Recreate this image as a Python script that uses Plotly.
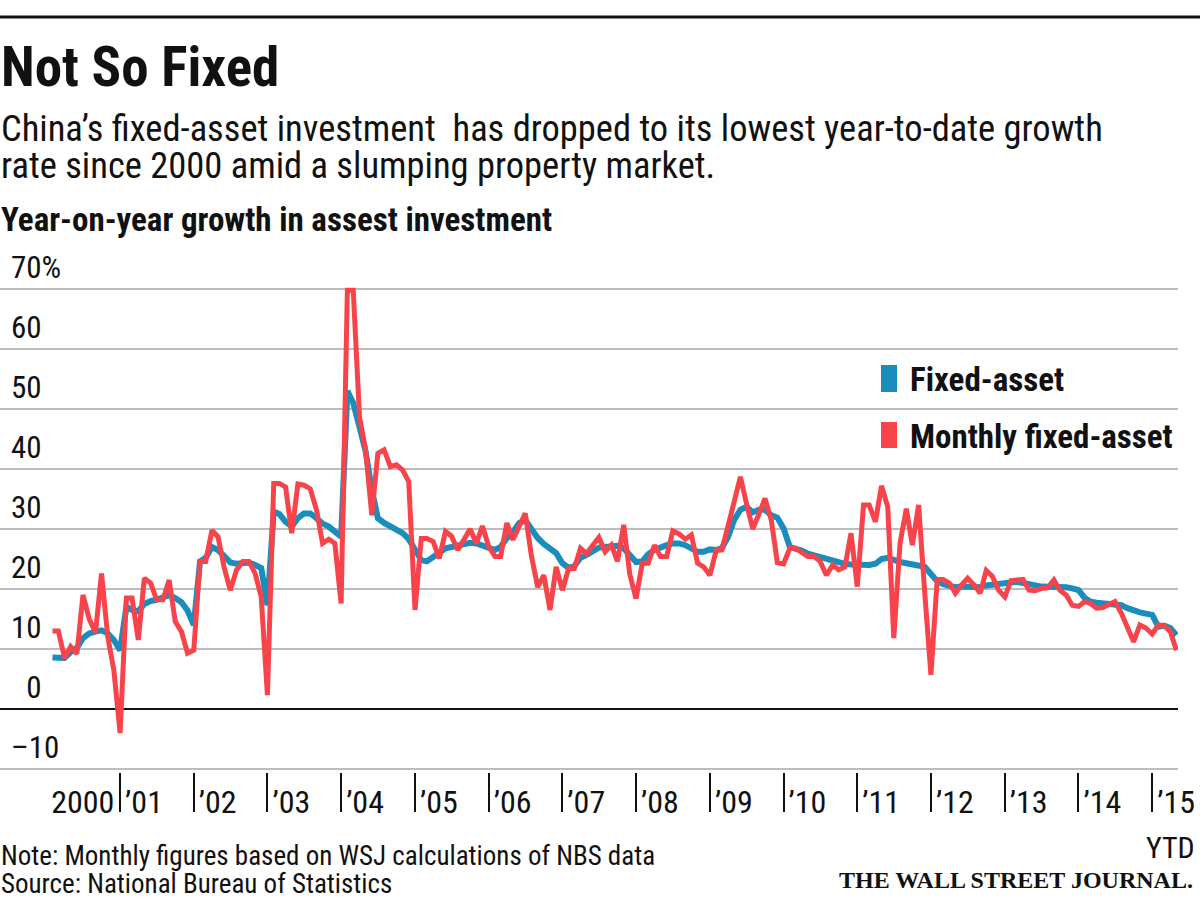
import pandas as pd
import plotly.graph_objects as go

# ---------------- data ----------------
start_month = "2000-02-01"

fixed_asset = [
    8.6, 8.6, 8.5, 9.5, 10.2, 11.8, 12.6, 12.9, 13.1, 12.6, 11.5, 9.8,
    17.0, 16.5, 16.3, 17.5, 18.0, 18.2, 18.5, 19.0, 18.5, 17.8, 16.4, 14.0,
    24.6, 25.2, 27.0, 26.5, 25.5, 24.4, 24.2, 24.4, 24.4, 24.0, 23.5, 17.3,
    32.9, 32.5, 31.2, 30.4, 31.8, 32.6, 32.6, 31.8, 30.9, 30.4, 29.7, 28.7,
    53.0, 51.0, 47.0, 43.0, 36.5, 31.8, 31.0, 30.5, 30.0, 29.3, 28.3, 26.5,
    24.8, 24.6, 25.4, 26.2, 26.8, 27.0, 27.3, 27.6, 27.7, 27.6, 27.3, 27.0,
    26.5, 27.0, 28.5, 29.5, 31.0, 31.5, 29.8, 28.5, 27.5, 26.8, 26.0, 24.3,
    23.5, 23.8, 25.2, 25.7, 26.4, 26.9, 27.0, 27.0, 27.2, 26.8, 25.7, 24.5,
    24.6, 25.8, 26.5, 27.0, 27.3, 27.6, 27.6, 27.3, 26.8, 26.2, 26.2, 26.6,
    26.5, 26.8, 28.7, 31.5, 33.2, 33.7, 32.8, 33.2, 33.2, 32.3, 31.9, 30.1,
    27.0, 26.8, 26.4, 25.9, 25.6, 25.2, 24.9, 24.6, 24.3, 24.2, 24.1, 24.0,
    24.0, 24.0, 24.2, 25.0, 25.2, 24.8, 24.5, 24.3, 24.1, 24.0, 23.7, 22.5,
    21.3, 20.8, 20.5, 20.3, 20.4, 20.4, 20.3, 20.3, 20.6, 20.7, 20.9, 21.0,
    21.1, 21.2, 21.0, 20.7, 20.6, 20.4, 20.4, 20.5, 20.4, 20.3, 20.1, 19.8,
    18.5, 17.9, 17.7, 17.6, 17.5, 17.4, 17.3, 16.8, 16.4, 16.1, 15.9, 15.7,
    13.7, 13.9, 13.5, 12.3,
]

monthly_fixed_asset = [
    13.0, 13.0, 8.5, 10.4, 9.2, 19.0, 15.0, 12.7, 22.6, 12.0, 6.5, -4.0,
    18.5, 18.5, 11.5, 21.8, 21.0, 18.2, 18.2, 21.5, 14.6, 12.9, 9.3, 9.8,
    24.6, 24.6, 29.8, 28.7, 23.5, 19.8, 23.2, 24.6, 24.6, 22.6, 18.7, 2.3,
    37.6, 37.6, 37.0, 29.3, 37.5, 37.3, 36.7, 33.2, 27.6, 28.3, 27.6, 17.6,
    69.8, 69.8, 48.7, 43.2, 32.3, 42.6, 43.2, 40.4, 40.7, 39.8, 37.9, 16.5,
    28.4, 28.4, 27.9, 25.1, 29.6, 28.8, 26.5, 28.3, 30.0, 27.6, 30.5, 27.1,
    25.4, 25.4, 31.0, 28.2, 30.4, 32.6, 25.5, 20.3, 22.3, 16.5, 23.7, 19.8,
    23.4, 23.4, 26.8, 25.9, 27.3, 28.6, 26.2, 27.3, 24.6, 30.7, 22.5, 18.4,
    24.3, 24.3, 27.3, 25.4, 25.4, 29.7, 29.2, 28.3, 29.0, 24.3, 23.7, 22.3,
    26.4, 26.5, 30.5, 34.5, 38.7, 34.3, 30.0, 32.5, 35.1, 31.5, 24.4, 24.2,
    26.8, 26.8, 26.2, 25.4, 25.4, 24.6, 22.3, 24.0, 23.2, 23.7, 29.3, 20.4,
    34.0, 34.0, 31.2, 37.2, 33.7, 11.8, 27.6, 33.4, 27.3, 34.0, 19.5, 5.7,
    21.6, 21.6, 21.0, 19.3, 20.7, 21.8, 20.7, 19.3, 23.1, 22.1, 19.8, 18.7,
    21.4, 21.4, 21.6, 19.8, 19.7, 20.1, 20.2, 21.5, 19.8, 19.0, 17.3, 17.1,
    17.9, 17.6, 16.8, 16.9, 17.3, 17.9, 16.0, 13.5, 11.2, 14.0, 13.5, 12.5,
    14.0, 13.9, 12.9, 9.8,
]

year_ticks = ["2000-01-01", "2001-01-01", "2002-01-01", "2003-01-01", "2004-01-01",
              "2005-01-01", "2006-01-01", "2007-01-01", "2008-01-01", "2009-01-01",
              "2010-01-01", "2011-01-01", "2012-01-01", "2013-01-01", "2014-01-01",
              "2015-01-01"]
year_labels = ["2000", "\u201901", "\u201902", "\u201903", "\u201904", "\u201905", "\u201906",
               "\u201907", "\u201908", "\u201909", "\u201910", "\u201911", "\u201912",
               "\u201913", "\u201914", "\u201915"]
y_ticks = [-10, 0, 10, 20, 30, 40, 50, 60, 70]
y_labels = ["\u201310", "\u20070", "10", "20", "30", "40", "50", "60", "70%"]

months = pd.date_range(start_month, periods=len(fixed_asset), freq="MS")

# ---------------- styling ----------------
BLUE = "#1a8dbd"
RED = "#f8434a"
INK = "#111111"
FONT = "Liberation Sans Narrow, Roboto Condensed, Arial Narrow, sans-serif"
SERIF = "Liberation Serif, DejaVu Serif, serif"

W, H = 1200, 903
PL, PR, PT, PB = 0, 1178, 283, 772


def px(x):
    return (x - PL) / (PR - PL)


def py(y):
    return (PB - y) / (PB - PT)


fig = go.Figure()
fig.add_trace(go.Scatter(x=months, y=fixed_asset, mode="lines", name="Fixed-asset",
                         line=dict(color=BLUE, width=6), xaxis="x", yaxis="y",
                         showlegend=False))
fig.add_trace(go.Scatter(x=months, y=monthly_fixed_asset, mode="lines",
                         name="Monthly fixed-asset",
                         line=dict(color=RED, width=5), xaxis="x2", yaxis="y",
                         showlegend=False))

x_range = ["1999-05-17", "2015-05-09"]

fig.update_layout(
    width=W, height=H,
    margin=dict(l=PL, r=W - PR, t=PT, b=H - PB, pad=0),
    paper_bgcolor="white", plot_bgcolor="white",
    font=dict(family=FONT, color=INK, size=27),
    xaxis=dict(type="date", range=x_range, tickvals=year_ticks, ticktext=year_labels,
               ticks="", showgrid=False, zeroline=False, showline=False,
               ticklabelposition="outside right", ticklabelshift=5,
               ticklabelstandoff=8, ticklabeloverflow="allow",
               tickfont=dict(size=32, color=INK, family=FONT)),
    xaxis2=dict(type="date", overlaying="x", matches="x", anchor="y", side="bottom",
                tickvals=year_ticks[1:], ticks="outside", ticklen=39, tickwidth=2,
                tickcolor=INK, showticklabels=False, showgrid=False,
                zeroline=False, showline=False),
    yaxis=dict(range=[-10.5, 71], tickvals=y_ticks, ticktext=y_labels,
               showgrid=True, gridcolor="#bdbdbd", gridwidth=2,
               zeroline=True, zerolinecolor=INK, zerolinewidth=2,
               ticks="", showline=False, ticklabelposition="inside top",
               ticklabelstandoff=8, ticklabeloverflow="allow",
               tickfont=dict(size=31, color=INK, family=FONT)),
    hovermode=False,
)

annotations = [
    dict(text="<b>Not So Fixed</b>", x=px(0), y=py(67), font=dict(size=55)),
    dict(text="China\u2019s fixed-asset investment  has dropped to its lowest year-to-date growth",
         x=px(0), y=py(128.5), font=dict(size=36.5)),
    dict(text="rate since 2000 amid a slumping property market.",
         x=px(0), y=py(165.5), font=dict(size=36.5)),
    dict(text="<b>Year-on-year growth in assest investment</b>",
         x=px(0), y=py(219.5), font=dict(size=33)),
    dict(text="<b>Fixed-asset</b>", x=px(909), y=py(379), font=dict(size=33)),
    dict(text="<b>Monthly fixed-asset</b>", x=px(909), y=py(436), font=dict(size=33)),
    dict(text="Note: Monthly figures based on WSJ calculations of NBS data",
         x=px(0), y=py(856), font=dict(size=27)),
    dict(text="Source: National Bureau of Statistics",
         x=px(0), y=py(884), font=dict(size=27)),
    dict(text="YTD", x=px(1196), y=py(847), xanchor="right", font=dict(size=30)),
    dict(text="<b>THE WALL STREET JOURNAL.</b>", x=px(1194), y=py(880), xanchor="right",
         font=dict(size=24, family=SERIF)),
]
for a in annotations:
    a.setdefault("xanchor", "left")
    a.update(xref="paper", yref="paper", yanchor="middle", showarrow=False,
             borderpad=0)
    a["font"] = dict(family=a["font"].get("family", FONT), size=a["font"]["size"], color=INK)
fig.update_layout(annotations=annotations)

shapes = [
    dict(type="line", xref="paper", yref="paper", x0=px(0), x1=px(W), y0=py(17), y1=py(17),
         line=dict(color=INK, width=3)),
    dict(type="rect", xref="paper", yref="paper", x0=px(881), x1=px(897), y0=py(392), y1=py(365),
         fillcolor=BLUE, line=dict(width=0)),
    dict(type="rect", xref="paper", yref="paper", x0=px(881), x1=px(897), y0=py(448), y1=py(422),
         fillcolor=RED, line=dict(width=0)),
]
fig.update_layout(shapes=shapes)

fig.write_html("out.html", config={"displayModeBar": False},
               post_script="document.body.style.margin='0';document.body.style.overflow='hidden';")
